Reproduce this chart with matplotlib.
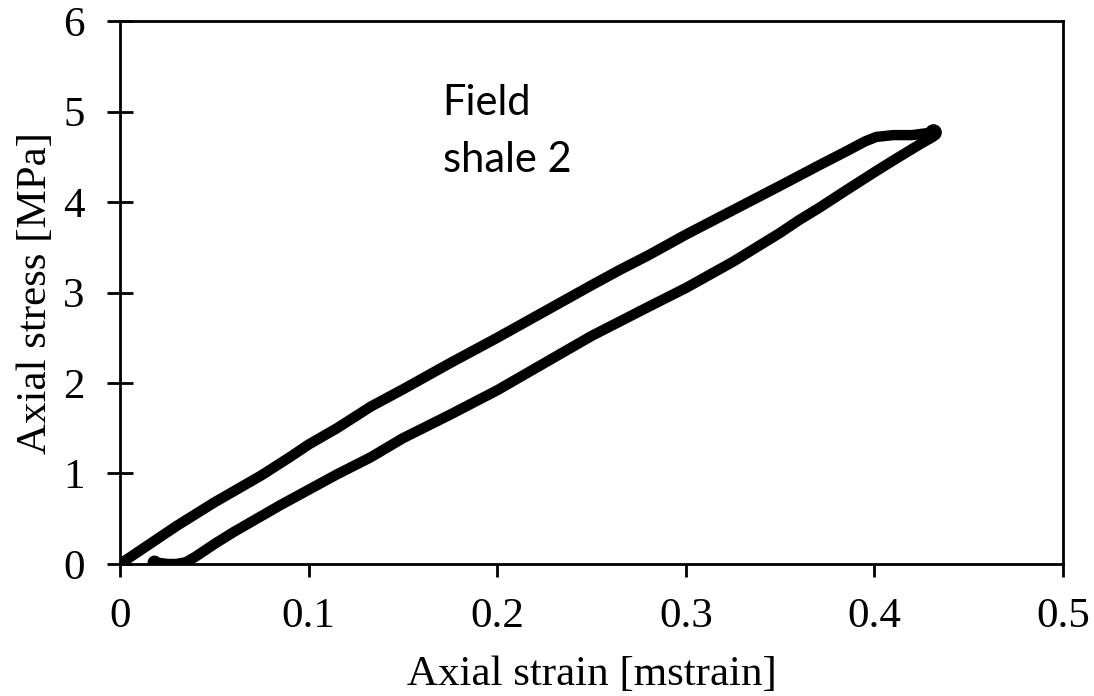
import matplotlib.pyplot as plt

# loading branch (upper curve)
load_strain = [0, 0.005, 0.01, 0.02, 0.03, 0.04, 0.05, 0.06, 0.075, 0.09, 0.1,
               0.115, 0.133, 0.15, 0.175, 0.2, 0.225, 0.25, 0.265, 0.28, 0.3,
               0.325, 0.35, 0.371, 0.385, 0.395, 0.401, 0.41, 0.42, 0.431]
load_stress = [0, 0.07, 0.14, 0.28, 0.42, 0.55, 0.68, 0.80, 0.98, 1.18, 1.32,
               1.50, 1.74, 1.93, 2.22, 2.50, 2.79, 3.08, 3.25, 3.41, 3.64,
               3.91, 4.18, 4.41, 4.56, 4.67, 4.72, 4.74, 4.74, 4.77]

# unloading branch (lower curve)
unload_strain = [0.431, 0.425, 0.41, 0.40, 0.385, 0.371, 0.36, 0.35, 0.325,
                 0.3, 0.28, 0.265, 0.25, 0.225, 0.2, 0.175, 0.15, 0.133, 0.115,
                 0.1, 0.085, 0.07, 0.06, 0.05, 0.04, 0.035, 0.03, 0.025, 0.018]
unload_stress = [4.72, 4.65, 4.46, 4.33, 4.13, 3.94, 3.80, 3.66, 3.34,
                 3.05, 2.84, 2.68, 2.52, 2.22, 1.92, 1.65, 1.39, 1.18, 0.99,
                 0.82, 0.65, 0.47, 0.35, 0.22, 0.08, 0.02, 0.0, 0.0, 0.02]

x_ticks = [0, 0.1, 0.2, 0.3, 0.4, 0.5]
x_labels = ["0", "0.1", "0.2", "0.3", "0.4", "0.5"]
y_ticks = [0, 1, 2, 3, 4, 5, 6]

plt.rcParams['font.family'] = ['Liberation Serif', 'DejaVu Serif']

fig = plt.figure(figsize=(10.94, 6.96), dpi=100)
ax = fig.add_axes([0.1097, 0.1897, 0.862, 0.780])

ax.plot(load_strain + unload_strain, load_stress + unload_stress,
        color="black", linewidth=7.5, solid_capstyle="round", solid_joinstyle="round")
ax.plot([unload_strain[-1]], [unload_stress[-1]], "o", color="black", markersize=9)
ax.plot([load_strain[-1]], [load_stress[-1]], "o", color="black", markersize=11)

ax.set_xlim(0, 0.5)
ax.set_ylim(0, 6)
ax.set_xticks(x_ticks)
ax.set_xticklabels(x_labels)
ax.set_yticks(y_ticks)

for s in ax.spines.values():
    s.set_linewidth(2)
ax.tick_params(axis="y", direction="inout", length=19, width=2, pad=16, labelsize=31)
ax.tick_params(axis="x", direction="out", length=9, width=2, pad=15, labelsize=31)

ax.set_xlabel("Axial strain [mstrain]", fontsize=31, labelpad=14)
ax.set_ylabel("Axial stress [MPa]", fontsize=31, labelpad=6)

ax.text(0.171, 4.96, "Field", fontsize=30, family=["Lato", "DejaVu Sans"], va="baseline")
ax.text(0.171, 4.33, "shale 2", fontsize=30, family=["Lato", "DejaVu Sans"], va="baseline")

fig.savefig("out.png", dpi=100)
